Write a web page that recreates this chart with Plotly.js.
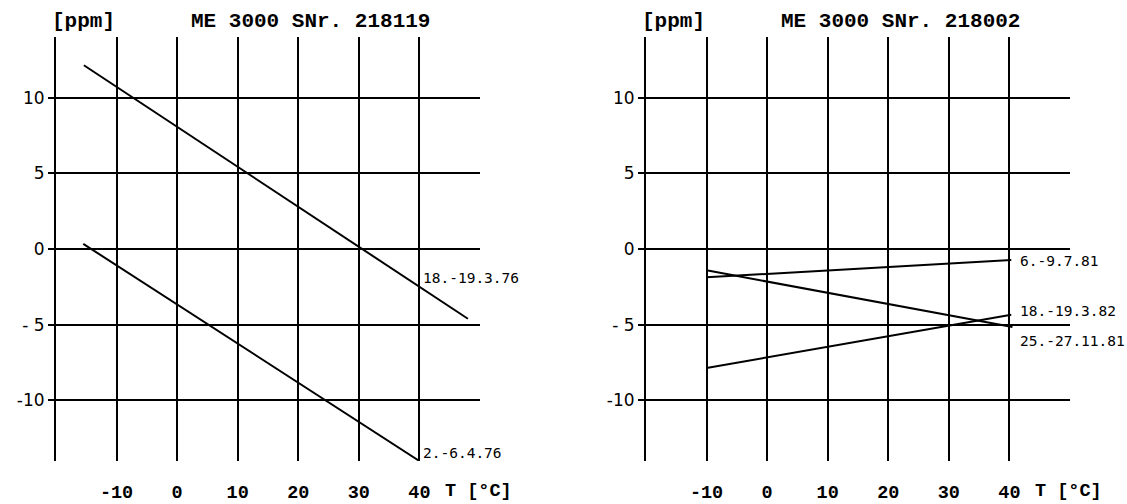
<!DOCTYPE html>
<html>
<head>
<meta charset="utf-8">
<script src="https://cdn.plot.ly/plotly-3.0.1.min.js"></script>
<style>
html,body{margin:0;padding:0;background:#fff;}
#chart{width:1127px;height:504px;}
</style>
</head>
<body>
<div id="chart"></div>
<script>
// ---- data ----
const xTickVals = [-20, -10, 0, 10, 20, 30, 40];
const xTickText = ["", "-10", "0", "10", "20", "30", "40"];
const yTickVals = [-10, -5, 0, 5, 10];
const yTickText = ["-10", "- 5", "0", "5", "10"];

const leftTitle = "ME 3000 SNr. 218119";
const rightTitle = "ME 3000 SNr. 218002";

// left panel series (temperature °C, deviation ppm)
const l1Name = "18.-19.3.76";
const l1T = [-15.4, 48.0];
const l1P = [12.15, -4.6];
const l2Name = "2.-6.4.76";
const l2T = [-15.5, 40];
const l2P = [0.35, -14];

// right panel series
const r1Name = "6.-9.7.81";
const r1T = [-10, 40.3];
const r1P = [-1.86, -0.72];
const r2Name = "25.-27.11.81";
const r2T = [-10, 40.5];
const r2P = [-1.40, -5.15];
const r3Name = "18.-19.3.82";
const r3T = [-10, 40.3];
const r3P = [-7.85, -4.34];

// ---- styling ----
const MONO = "Courier New, Nimbus Mono PS, Nimbus Mono L, FreeMono, Liberation Mono, monospace";
const LBL = "DejaVu Sans Mono, monospace";
const line = {color: "#000", width: 2};

function tr(x, y, name, xa, ya) {
  return {x: x, y: y, name: name, mode: "lines", line: line, xaxis: xa, yaxis: ya,
          hoverinfo: "skip", showlegend: false};
}

const data = [
  tr(l1T, l1P, l1Name, "x", "y"),
  tr(l2T, l2P, l2Name, "x", "y"),
  tr(r1T, r1P, r1Name, "x2", "y2"),
  tr(r2T, r2P, r2Name, "x2", "y2"),
  tr(r3T, r3P, r3Name, "x2", "y2")
];

function xax(dom) {
  return {
    domain: dom, range: [-20, 50], tickmode: "array", tickvals: xTickVals, ticktext: xTickText,
    showgrid: true, gridcolor: "#000", gridwidth: 2, zeroline: false, showline: false,
    ticks: "", ticklabelstandoff: 17,
    tickfont: {family: MONO, size: 18.5, color: "#000", weight: "bold"}, fixedrange: true
  };
}
function yax(anchor) {
  return {
    anchor: anchor, domain: [1 - 461 / 504, 1 - 37.3 / 504], range: [-14, 14],
    tickmode: "array", tickvals: yTickVals, ticktext: yTickText,
    showgrid: true, gridcolor: "#000", gridwidth: 2, zeroline: false,
    showline: true, linecolor: "#000", linewidth: 2,
    ticks: "outside", ticklen: 6, tickwidth: 2, tickcolor: "#000",
    tickfont: {family: "DejaVu Sans, sans-serif", size: 17, color: "#000"}, fixedrange: true
  };
}

function ann(text, xref, x, y, xshift, font) {
  return {text: text, xref: xref, yref: xref === "x" ? "y" : "y2", x: x, y: y,
          xanchor: "left", yanchor: "middle", xshift: xshift, showarrow: false, font: font};
}
const lblFont = {family: LBL, size: 14.5, color: "#000"};
const titleFont = {family: MONO, size: 21, color: "#000", weight: "bold"};
const unitFont = {family: MONO, size: 18.5, color: "#000", weight: "bold"};

function paperAnn(text, px, py, font) {
  return {text: text, xref: "paper", yref: "paper", x: px / 1127, y: 1 - py / 504,
          xanchor: "left", yanchor: "middle", showarrow: false, font: font};
}

const annotations = [
  paperAnn("[ppm]", 50, 22, titleFont),
  paperAnn(leftTitle, 189, 22, titleFont),
  paperAnn("[ppm]", 640, 22, titleFont),
  paperAnn(rightTitle, 779, 22, titleFont),
  {text: "T [°C]", xref: "x", yref: "paper", x: 40, y: 1 - 491 / 504, xanchor: "left", yanchor: "middle",
   xshift: 24, showarrow: false, font: unitFont},
  {text: "T [°C]", xref: "x2", yref: "paper", x: 40, y: 1 - 491 / 504, xanchor: "left", yanchor: "middle",
   xshift: 24, showarrow: false, font: unitFont},
  ann(l1Name, "x", 40, -1.9, 2, lblFont),
  ann(l2Name, "x", 40, -13.5, 2, lblFont),
  ann(r1Name, "x2", 40, -0.8, 9, lblFont),
  ann(r3Name, "x2", 40, -4.1, 9, lblFont),
  ann(r2Name, "x2", 40, -6.05, 9, lblFont)
];

const layout = {
  width: 1127, height: 504,
  margin: {l: 0, r: 0, t: 0, b: 0},
  paper_bgcolor: "#fff", plot_bgcolor: "#fff",
  showlegend: false,
  xaxis: Object.assign(xax([56 / 1127, 480 / 1127]), {anchor: "y"}),
  yaxis: yax("x"),
  xaxis2: Object.assign(xax([646 / 1127, 1070 / 1127]), {anchor: "y2"}),
  yaxis2: yax("x2"),
  annotations: annotations
};

Plotly.newPlot("chart", data, layout, {staticPlot: true, displayModeBar: false});
</script>
</body>
</html>
